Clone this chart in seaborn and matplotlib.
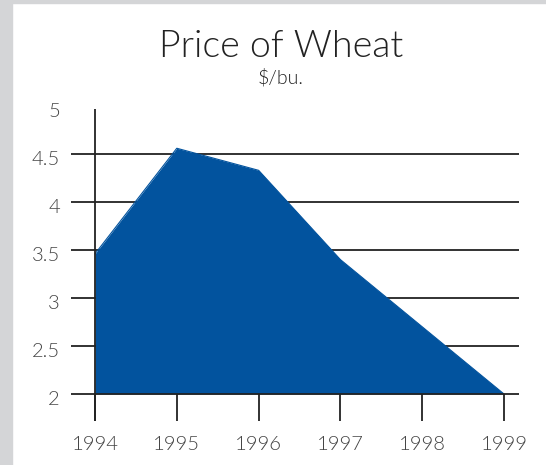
import matplotlib.pyplot as plt
import matplotlib.patches as mpatches
from matplotlib.transforms import ScaledTranslation
import seaborn as sns

sns.set_theme(style="white")
plt.rcParams['font.family'] = ['Lato', 'DejaVu Sans']
plt.rcParams['font.weight'] = 300

# data
years = [1994, 1995, 1996, 1997, 1998, 1999]
price = [3.46, 4.56, 4.33, 3.40, 2.70, 2.00]
y_ticks = [2, 2.5, 3, 3.5, 4, 4.5, 5]
y_labels = ['2', '2.5', '3', '3.5', '4', '4.5', '5']
x_labels = ['1994', '1995', '1996', '1997', '1998', '1999']

blue = '#02539e'
ink = '#222222'
grey_text = '#444444'

fig = plt.figure(figsize=(5.46, 4.65), dpi=100)
fig.patch.set_facecolor('white')
# grey frame strips on the left and top
fig.patches.append(mpatches.Rectangle((0, 0), 12 / 546, 1, transform=fig.transFigure,
                                      color='#d4d5d7', zorder=0))
fig.patches.append(mpatches.Rectangle((0, 1 - 3 / 465), 1, 3 / 465, transform=fig.transFigure,
                                      color='#d4d5d7', zorder=0))

ax = fig.add_axes([71 / 546, 44 / 465, 448 / 546, 315 / 465])
ax.set_facecolor('none')

x_lo, x_hi = 1994 - 24 / 81.8, 1999 + 15 / 81.8
y_lo, y_hi = 2 - 27 / 96, 5.0

# horizontal grid lines behind the area
for v in y_ticks[1:-1]:
    ax.axhline(v, color=ink, lw=1.3, zorder=1)

ax.fill_between(years, price, 2, color=blue, lw=0, zorder=2)
sns.lineplot(x=years, y=price, color=blue, lw=0.8, zorder=3, ax=ax)

# baseline, y axis and x tick marks on top
ax.axhline(2, color=ink, lw=1.3, zorder=4)
ax.vlines(years[0], y_lo, 4.97, color=ink, lw=1.3, zorder=4)
ax.vlines(years, y_lo, 2, color=ink, lw=1.3, zorder=4)

ax.set_xlim(x_lo, x_hi)
ax.set_ylim(y_lo, y_hi)
ax.set_xticks(years)
ax.set_xticklabels(x_labels)
ax.set_yticks(y_ticks)
ax.set_yticklabels(y_labels)
ax.tick_params(axis='x', length=0, pad=10.5, labelsize=14.5, labelcolor=grey_text)
ax.tick_params(axis='y', length=0, pad=8, labelsize=14.5, labelcolor=grey_text)
for lab in ax.get_xticklabels() + ax.get_yticklabels():
    lab.set_fontweight(300)
# y labels sit a little below their grid lines in the reference
shift = ScaledTranslation(0, -4 / 100, fig.dpi_scale_trans)
for lab in ax.get_yticklabels():
    lab.set_transform(lab.get_transform() + shift)
for s in ax.spines.values():
    s.set_visible(False)
ax.set_xlabel('')
ax.set_ylabel('')

fig.text(281 / 546, 1 - 57 / 465, 'Price of Wheat', ha='center', va='baseline',
         fontsize=27, fontweight=300, color=ink)
fig.text(281 / 546, 1 - 84 / 465, r'\$/bu.', ha='center', va='baseline',
         fontsize=14, fontweight=300, color=ink)

fig.savefig('out.png', dpi=100)
